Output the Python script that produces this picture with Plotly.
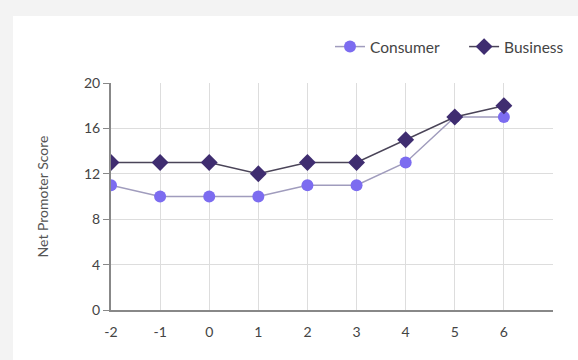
import plotly.graph_objects as go

x_vals = [-2, -1, 0, 1, 2, 3, 4, 5, 6]
x_labels = ["-2", "-1", "0", "1", "2", "3", "4", "5", "6"]
consumer = [11, 10, 10, 10, 11, 11, 13, 17, 17]
business = [13, 13, 13, 12, 13, 13, 15, 17, 18]
y_ticks = [0, 4, 8, 12, 16, 20]

W, H = 578, 360
L, R, T, B = 111, 5, 83, 50
pw, ph = W - L - R, H - T - B
axis_right = 553

def px(x):
    return (x - L) / pw

def py(y):
    return (H - B - y) / ph

fig = go.Figure()
fig.add_trace(go.Scatter(
    x=x_vals, y=consumer, name="Consumer\u00a0\u00a0\u00a0\u00a0\u00a0", mode="lines+markers",
    line=dict(color="#a09cbd", width=1.5),
    marker=dict(color="#7c6cf0", size=12, symbol="circle"),
))
fig.add_trace(go.Scatter(
    x=x_vals, y=business, name="Business", mode="lines+markers",
    line=dict(color="#4a4458", width=1.5),
    marker=dict(color="#3f2d70", size=13, symbol="diamond"),
))

fig.update_layout(
    width=W, height=H,
    margin=dict(l=L, r=R, t=T, b=B),
    paper_bgcolor="#f3f3f3",
    plot_bgcolor="rgba(0,0,0,0)",
    font=dict(family="Lato, Open Sans, sans-serif", size=14, color="#444"),
    shapes=[dict(type="rect", xref="paper", yref="paper",
                 x0=px(13), x1=px(W + 5), y0=py(H + 5), y1=py(16),
                 fillcolor="white", line=dict(width=0), layer="below")],
    legend=dict(orientation="h", x=px(569), xanchor="right", y=py(47), yanchor="middle",
                font=dict(size=15.5, color="#444"), bgcolor="rgba(0,0,0,0)",
                tracegroupgap=0),
    xaxis=dict(domain=[0, px(axis_right)], range=[-2, 7], tickvals=x_vals,
               ticktext=x_labels, showgrid=True,
               gridcolor="#dddddd", gridwidth=1.2, zeroline=False, showline=True,
               linecolor="#888", linewidth=2, ticks="", ticklabelstandoff=8,
               tickfont=dict(size=14, color="#444")),
    yaxis=dict(range=[0, 20], tickvals=y_ticks, showgrid=True, gridcolor="#dddddd",
               gridwidth=1.2, zeroline=False, showline=True, linecolor="#888",
               linewidth=2, ticks="outside", ticklen=6, tickcolor="#888",
               title=dict(text="Net Promoter Score", standoff=32,
                          font=dict(size=14, color="#555")),
               tickfont=dict(size=14, color="#444")),
)
fig.write_html("out.html")
